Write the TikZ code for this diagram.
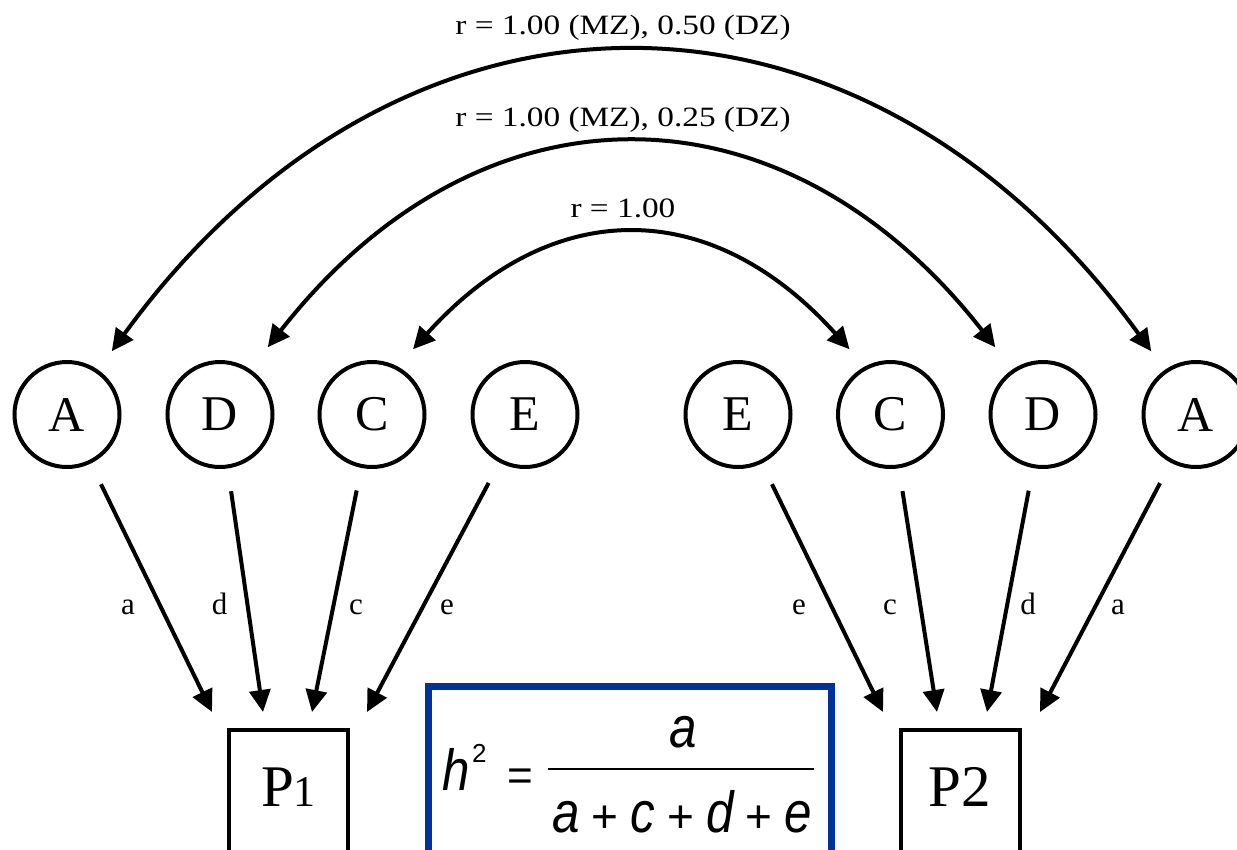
\documentclass[tikz,border=0pt]{standalone}
\usepackage{fontspec}
\setmainfont{Liberation Serif}
\newfontfamily\wideserif[FakeStretch=1.19]{Liberation Serif}
\newfontfamily\eqfont[FakeStretch=0.85]{Liberation Sans}
\newfontfamily\eqsans{Liberation Sans}
\usetikzlibrary{arrows.meta,calc}
\definecolor{boxblue}{RGB}{0,51,153}
\newcommand\eqplus{{\eqsans\upshape\fontsize{46}{46}\selectfont+}}
\begin{document}
\begin{tikzpicture}[x=1pt,y=-1pt,
  latent/.style={circle,draw,line width=4pt,minimum size=105pt,inner sep=0pt,
    font=\fontsize{50}{50}\selectfont},
  observed/.style={rectangle,draw,line width=4pt,minimum width=119pt,inner xsep=0pt,
    inner ysep=37.7pt,text height=39pt,text depth=80pt,anchor=north,
    font=\fontsize{59}{59}\selectfont},
  pathlbl/.style={anchor=base,inner sep=0pt,font=\fontsize{31}{31}\selectfont},
  corrlbl/.style={anchor=base,inner sep=0pt,font=\wideserif\fontsize{28}{28}\selectfont},
  load/.style={-{Triangle[length=22pt,width=21pt]},line width=4pt,shorten <=23pt},
  twoway/.style={{Triangle[length=22pt,width=21pt]}-{Triangle[length=22pt,width=21pt]},
    line width=4pt},
  eqletter/.style={inner sep=0pt,font=\eqfont\itshape\fontsize{58}{58}\selectfont},
  eqsym/.style={inner sep=0pt,font=\eqsans},
]
\clip (0,0) rectangle (1237,849);
\fill[white] (0,0) rectangle (1237,849);

% latent factors, twin 1
\node[latent] (A1) at (67,414.5) {A};
\node[latent] (D1) at (220,414.5) {D};
\node[latent] (C1) at (372,414.5) {C};
\node[latent] (E1) at (525,414.5) {E};
% latent factors, twin 2
\node[latent] (E2) at (738,414.5) {E};
\node[latent] (C2) at (890.5,414.5) {C};
\node[latent] (D2) at (1043,414.5) {D};
\node[latent] (A2) at (1196,414.5) {A};

% phenotypes
\node[observed] (P1) at (288.5,728) {P{\fontsize{44}{44}\selectfont 1}};
\node[observed] (P2) at (960,728) {P2};

% arrow tips above the phenotype boxes
\coordinate (tA1) at (212,712);
\coordinate (tD1) at (263,712);
\coordinate (tC1) at (312,712);
\coordinate (tE1) at (367,712);
\coordinate (tE2) at (883,712);
\coordinate (tC2) at (937,712);
\coordinate (tD2) at (987,712);
\coordinate (tA2) at (1040,712);

% factor loadings
\draw[load] (A1) -- (tA1);
\draw[load] (D1) -- (tD1);
\draw[load] (C1) -- (tC1);
\draw[load] (E1) -- (tE1);
\draw[load] (E2) -- (tE2);
\draw[load] (C2) -- (tC2);
\draw[load] (D2) -- (tD2);
\draw[load] (A2) -- (tA2);

\node[pathlbl] (la1) at (128,614) {a};
\node[pathlbl] (ld1) at (219.5,614) {d};
\node[pathlbl] (lc1) at (356,614) {c};
\node[pathlbl] (le1) at (447,614) {e};
\node[pathlbl] (le2) at (799,614) {e};
\node[pathlbl] (lc2) at (890,614) {c};
\node[pathlbl] (ld2) at (1028,614) {d};
\node[pathlbl] (la2) at (1118,614) {a};

% twin correlations (y axis points down, so polar angles are mirrored)
\draw[twoway,shorten <=23pt,shorten >=23pt]
  (A1.55) .. controls ($(A1.55)+(-54:516)$) and ($(A2.125)+(-126:516)$) .. (A2.125);
\draw[twoway,shorten <=28pt,shorten >=28pt]
  (D1.56) .. controls ($(D1.56)+(-52:373)$) and ($(D2.124)+(-128:373)$) .. (D2.124);
\draw[twoway,shorten <=23pt,shorten >=23pt]
  (C1.62) .. controls ($(C1.62)+(-48:230)$) and ($(C2.118)+(-132:230)$) .. (C2.118);

\node[corrlbl] (rA) at (623,34) {r = 1.00 (MZ), 0.50 (DZ)};
\node[corrlbl] (rD) at (623,126) {r = 1.00 (MZ), 0.25 (DZ)};
\node[corrlbl] (rC) at (623,217) {r = 1.00};

% heritability formula
\node[draw=boxblue,line width=7pt,minimum width=403pt,minimum height=220pt,
  inner sep=0pt,anchor=north west] (hbox) at (425,683) {};
\node[eqletter,anchor=base west] (hh) at (442,790) {h};
\node[eqsym,anchor=base west,font=\eqsans\fontsize{26}{26}\selectfont] (hsq) at (472,762) {2};
\node[eqsym,anchor=base,font=\eqsans\fontsize{44}{44}\selectfont] (heq) at (520,790.4) {=};
\draw[line width=2pt] (548,769) -- (814,769);
\node[eqletter,anchor=base] (num) at (683,747) {a};
\node[eqletter,anchor=base west] (den) at (552,832)
  {a\kern12pt\eqplus\kern12pt c\kern12pt\eqplus\kern12pt d\kern12pt\eqplus\kern12pt e};
\end{tikzpicture}
\end{document}
